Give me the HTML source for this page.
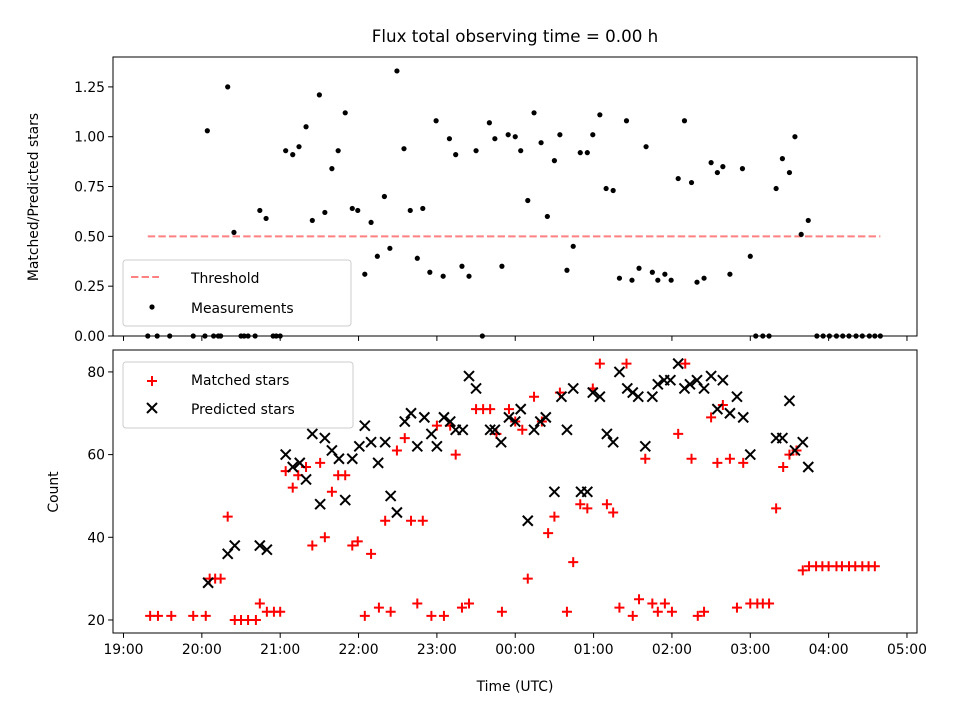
<!DOCTYPE html>
<html><head><meta charset="utf-8"><style>
html,body{margin:0;padding:0;background:#fff;}
svg{display:block;font-family:"DejaVu Sans","Liberation Sans",sans-serif;}
</style></head><body>
<svg id="chart" width="960" height="720" viewBox="0 0 960 720" xmlns="http://www.w3.org/2000/svg">
<rect x="0" y="0" width="960" height="720" fill="#fff"/>
<text x="515" y="42" font-size="16.7" text-anchor="middle" fill="#000">Flux total observing time = 0.00 h</text>
<g id="gtop"></g>
<g id="gbot"></g>
<text transform="translate(38,197) rotate(-90)" font-size="13.9" text-anchor="middle">Matched/Predicted stars</text>
<text transform="translate(58,492) rotate(-90)" font-size="13.9" text-anchor="middle">Count</text>
<text x="515" y="691" font-size="13.9" text-anchor="middle">Time (UTC)</text>
<g>
<rect x="123" y="260" width="228" height="66" rx="3" fill="#fff" fill-opacity="0.8" stroke="#ccc"/>
<line x1="131" y1="277" x2="159" y2="277" stroke="#ff8080" stroke-width="2" stroke-dasharray="7.4,3.2"/>
<text x="191" y="283" font-size="13.9">Threshold</text>
<circle cx="152" cy="307" r="2.6" fill="#000"/>
<text x="191" y="313" font-size="13.9">Measurements</text>
</g>
<g>
<rect x="123" y="362" width="230" height="66" rx="3" fill="#fff" fill-opacity="0.8" stroke="#ccc"/>
<path d="M147,381H157M152,376V386" stroke="#f00" stroke-width="2"/>
<text x="191" y="385" font-size="13.9">Matched stars</text>
<path d="M147,403L157,413M147,413L157,403" stroke="#000" stroke-width="2"/>
<text x="191" y="414" font-size="13.9">Predicted stars</text>
</g>
</svg>
<script>
// times in hours after 19:00 UTC
const topTimes=[0.31,0.43,0.59,0.89,1.04,1.07,1.15,1.21,1.24,1.33,1.41,1.50,1.54,1.59,1.68,1.74,1.82,1.91,1.95,2.00,2.07,2.16,2.24,2.33,2.41,2.50,2.57,2.66,2.74,2.83,2.92,2.99,3.08,3.16,3.24,3.33,3.40,3.49,3.58,3.66,3.75,3.82,3.91,3.99,4.08,4.16,4.24,4.32,4.41,4.50,4.58,4.67,4.74,4.83,4.91,5.00,5.07,5.16,5.24,5.33,5.41,5.50,5.57,5.66,5.74,5.83,5.92,5.99,6.08,6.16,6.25,6.33,6.42,6.49,6.58,6.67,6.75,6.82,6.91,6.99,7.08,7.16,7.25,7.32,7.41,7.50,7.58,7.65,7.74,7.90,8.00,8.07,8.16,8.24,8.33,8.41,8.50,8.57,8.65,8.74,8.85,8.93,9.01,9.10,9.18,9.26,9.35,9.43,9.52,9.59,9.66];
const topRatios=[0,0,0,0,0,1.03,0,0,0,1.25,0.52,0,0,0,0,0.63,0.59,0,0,0,0.93,0.91,0.95,1.05,0.58,1.21,0.62,0.84,0.93,1.12,0.64,0.63,0.31,0.57,0.40,0.70,0.44,1.33,0.94,0.63,0.39,0.64,0.32,1.08,0.30,0.99,0.91,0.35,0.30,0.93,0,1.07,0.99,0.35,1.01,1.00,0.93,0.68,1.12,0.97,0.60,0.88,1.01,0.33,0.45,0.92,0.92,1.01,1.11,0.74,0.73,0.29,1.08,0.28,0.34,0.95,0.32,0.28,0.31,0.28,0.79,1.08,0.77,0.27,0.29,0.87,0.82,0.85,0.31,0.84,0.40,0,0,0,0.74,0.89,0.82,1.00,0.51,0.58,0,0,0,0,0,0,0,0,0,0,0];
const threshold=0.5;
const thresholdRange=[0.31,9.66];
const matchedTimes=[0.34,0.44,0.61,0.89,1.05,1.10,1.17,1.24,1.33,1.42,1.50,1.59,1.69,1.74,1.83,1.92,2.00,2.07,2.16,2.23,2.33,2.41,2.51,2.57,2.66,2.74,2.83,2.92,2.99,3.08,3.16,3.26,3.34,3.41,3.49,3.59,3.67,3.75,3.82,3.93,4.00,4.09,4.17,4.24,4.32,4.41,4.50,4.59,4.68,4.76,4.83,4.92,5.00,5.09,5.16,5.24,5.34,5.42,5.50,5.57,5.66,5.74,5.83,5.92,5.99,6.08,6.17,6.25,6.33,6.42,6.50,6.58,6.66,6.75,6.82,6.91,7.00,7.08,7.17,7.25,7.33,7.41,7.50,7.58,7.65,7.74,7.83,7.91,8.00,8.09,8.16,8.24,8.33,8.42,8.50,8.59,8.67,8.75,8.84,8.92,9.00,9.10,9.17,9.26,9.34,9.43,9.51,9.59,9.66];
const matchedCounts=[21,21,21,21,21,30,30,30,45,20,20,20,20,24,22,22,22,56,52,55,57,38,58,40,51,55,55,38,39,21,36,23,44,22,61,64,44,24,44,21,67,21,67,60,23,24,71,71,71,65,22,71,68,66,30,74,68,41,45,75,22,34,48,47,76,82,48,46,23,82,21,25,59,24,22,24,22,65,82,59,21,22,69,58,72,59,23,58,24,24,24,24,47,57,60,61,32,33,33,33,33,33,33,33,33,33,33,33];
const predictedTimes=[1.08,1.33,1.42,1.74,1.83,2.07,2.16,2.25,2.33,2.41,2.51,2.57,2.66,2.75,2.83,2.92,3.01,3.08,3.16,3.25,3.34,3.41,3.49,3.59,3.67,3.75,3.84,3.93,4.00,4.09,4.17,4.24,4.33,4.41,4.50,4.68,4.74,4.82,4.92,5.00,5.07,5.16,5.24,5.32,5.39,5.50,5.59,5.66,5.74,5.84,5.92,5.99,6.08,6.17,6.25,6.33,6.43,6.50,6.57,6.66,6.75,6.82,6.90,6.98,7.08,7.16,7.23,7.32,7.41,7.50,7.58,7.65,7.74,7.83,7.91,8.00,8.33,8.41,8.50,8.57,8.67,8.74];
const predictedCounts=[29,36,38,38,37,60,57,58,54,65,48,64,61,59,49,59,62,67,63,58,63,50,46,68,70,62,69,65,62,69,68,66,66,79,76,66,66,63,69,68,71,44,66,68,69,51,74,66,76,51,51,75,74,65,63,80,76,75,74,62,74,77,78,78,82,76,77,78,76,79,71,78,70,74,69,60,64,64,73,61,63,57];
const xTickLabels=["19:00","20:00","21:00","22:00","23:00","00:00","01:00","02:00","03:00","04:00","05:00"];
const xTickValues=[0,1,2,3,4,5,6,7,8,9,10];
const topYTicks=[0,0.25,0.5,0.75,1.0,1.25];
const botYTicks=[20,40,60,80];

const NS="http://www.w3.org/2000/svg";
const L=113,R=917;
const X0=-0.134,X1=10.128;
function xs(h){return L+(h-X0)/(X1-X0)*(R-L);}
const T0=57,T1=336; function yt(v){return T1-(v-0)/(1.4-0)*(T1-T0);}
const B0=350,B1=633; const BMIN=16.85,BMAX=85.3; function yb(v){return B1-(v-BMIN)/(BMAX-BMIN)*(B1-B0);}
function mk(tag,attrs,parent){const e=document.createElementNS(NS,tag);for(const k in attrs)e.setAttribute(k,attrs[k]);parent.appendChild(e);return e;}
const gTop=document.getElementById('gtop'),gBot=document.getElementById('gbot');

let th=mk('line',{x1:xs(thresholdRange[0]),x2:xs(thresholdRange[1]),y1:yt(threshold),y2:yt(threshold),stroke:'#ff8080','stroke-width':2,'stroke-dasharray':'7.4,3.2'},gTop);


topTimes.forEach((t,i)=>{
  const c=mk('circle',{cx:xs(t),cy:yt(topRatios[i]),r:2.6,fill:'#000'},gTop);
  
  
});
matchedTimes.forEach((t,i)=>{
  const x=xs(t),y=yb(matchedCounts[i]);
  const p=mk('path',{d:`M${x-5},${y}H${x+5}M${x},${y-5}V${y+5}`,stroke:'#ff0000','stroke-width':2,fill:'none'},gBot);
  
  
});
predictedTimes.forEach((t,i)=>{
  const x=xs(t),y=yb(predictedCounts[i]);
  const p=mk('path',{d:`M${x-5},${y-5}L${x+5},${y+5}M${x-5},${y+5}L${x+5},${y-5}`,stroke:'#000','stroke-width':2,fill:'none'},gBot);
  
  
});
[[T0,T1,gTop],[B0,B1,gBot]].forEach(([a,b,g],k)=>{
  const r=mk('rect',{x:L,y:a,width:R-L,height:b-a,fill:'none',stroke:'#000','stroke-width':1},g);
  
  
  xTickValues.forEach((v,i)=>{
    const tk=mk('line',{x1:xs(v),x2:xs(v),y1:b,y2:b+4.9,stroke:'#000','stroke-width':1},g);
    
    
    if(k){
      const tx=mk('text',{x:xs(v),y:b+21,'font-size':13.9,'text-anchor':'middle'},g);
      tx.textContent=xTickLabels[i];
      
      
    }
  });
});
topYTicks.forEach(v=>{
  const y=yt(v);
  const tk=mk('line',{x1:L-4.9,x2:L,y1:y,y2:y,stroke:'#000','stroke-width':1},gTop);
  
  
  const tx=mk('text',{x:L-8,y:y+5,'font-size':13.9,'text-anchor':'end'},gTop);
  tx.textContent=v.toFixed(2);
  
  
});
botYTicks.forEach(v=>{
  const y=yb(v);
  const tk=mk('line',{x1:L-4.9,x2:L,y1:y,y2:y,stroke:'#000','stroke-width':1},gBot);
  
  
  const tx=mk('text',{x:L-8,y:y+5,'font-size':13.9,'text-anchor':'end'},gBot);
  tx.textContent=String(v);
  
  
});
</script>
</body></html>
